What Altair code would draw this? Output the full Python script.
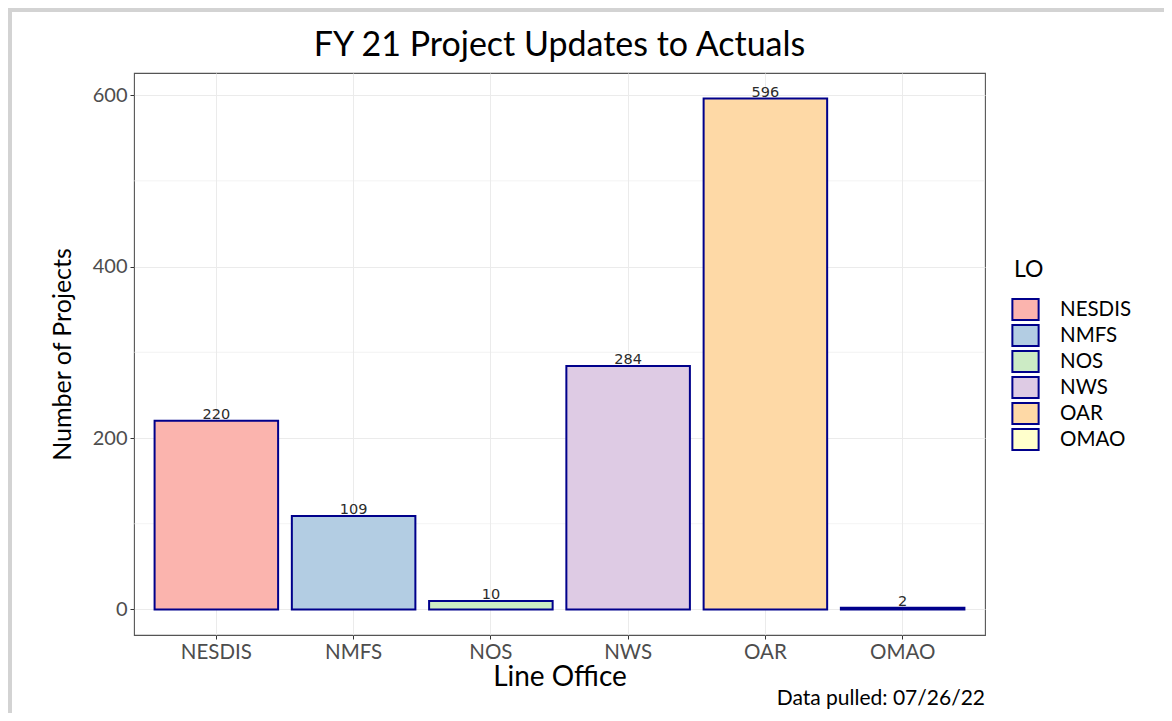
import altair as alt
import pandas as pd

# ---- data -------------------------------------------------------------
offices = ["NESDIS", "NMFS", "NOS", "NWS", "OAR", "OMAO"]
counts = [220, 109, 10, 284, 596, 2]
fills = ["#FBB4AE", "#B3CDE3", "#CCEBC5", "#DECBE4", "#FED9A6", "#FFFFCC"]
major_ticks = [0, 200, 400, 600]
minor_ticks = [100, 300, 500]
title_text = "FY 21 Project Updates to Actuals"
x_title = "Line Office"
y_title = "Number of Projects"
legend_title = "LO"
caption_text = "Data pulled: 07/26/22"

df = pd.DataFrame({"LO": offices, "n": counts})
minor_df = pd.DataFrame({"n": minor_ticks})
cap_df = pd.DataFrame({"t": [caption_text]})

W, H = 851, 562
NAVY = "#00008B"
FONT = "Lato"

x_enc = alt.X(
    "LO:N",
    sort=offices,
    title=x_title,
    scale=alt.Scale(paddingInner=0.1, paddingOuter=0.15),
    axis=alt.Axis(
        labelAngle=0,
        labelFont=FONT,
        labelFontSize=20.5,
        labelColor="#4d4d4d",
        labelPadding=3,
        tickColor="#333333",
        tickSize=4,
        domain=False,
        grid=True,
        gridColor="#ebebeb",
        gridWidth=1,
        bandPosition=0.5,
        titleFont=FONT,
        titleFontSize=28,
        titleFontWeight="normal",
        titleColor="black",
        titleY=50,
        titleBaseline="alphabetic",
    ),
)
y_enc = alt.Y(
    "n:Q",
    title=y_title,
    scale=alt.Scale(domain=[-29.8, 625.8], nice=False, zero=False),
    axis=alt.Axis(
        values=major_ticks,
        labelFont=FONT,
        labelFontSize=20,
        labelColor="#4d4d4d",
        labelPadding=3,
        tickColor="#333333",
        tickSize=4,
        domain=False,
        grid=True,
        gridColor="#ebebeb",
        gridWidth=1,
        titleFont=FONT,
        titleFontSize=25,
        titleFontWeight="normal",
        titleColor="black",
        titleAngle=270,
        titleX=-64,
        titleY=H / 2,
        titleBaseline="alphabetic",
    ),
)

minor = alt.Chart(minor_df).mark_rule(color="#ebebeb", strokeWidth=0.6).encode(y=y_enc)

bars = alt.Chart(df).mark_bar(stroke=NAVY, strokeWidth=2).encode(
    x=x_enc,
    y=y_enc,
    color=alt.Color(
        "LO:N",
        scale=alt.Scale(domain=offices, range=fills),
        legend=alt.Legend(
            title=legend_title,
            orient="none",
            legendX=880,
            legendY=186,
            padding=0,
            titleFont=FONT,
            titleFontSize=23,
            titleFontWeight="normal",
            titleColor="black",
            titlePadding=16,
            labelFont=FONT,
            labelFontSize=20.5,
            labelColor="black",
            labelOffset=23,
            rowPadding=-4.2,
            symbolType="M-1.25,-1H1.25V1H-1.25Z",
            symbolSize=441,
            symbolStrokeColor=NAVY,
            symbolStrokeWidth=2,
            symbolOpacity=1,
        ),
    ),
)

labels = alt.Chart(df).mark_text(
    baseline="alphabetic", dy=-2, font="DejaVu Sans", fontSize=14.5, color="#2b2b2b"
).encode(x=alt.X("LO:N", sort=offices), y=alt.Y("n:Q"), text="n:Q")

caption = alt.Chart(cap_df).mark_text(
    align="right", baseline="alphabetic", font=FONT, fontSize=21, color="black"
).encode(x=alt.value(W), y=alt.value(632), text="t:N")

frame_top = alt.Chart(cap_df).mark_rule(color="#d3d3d3", strokeWidth=4).encode(
    x=alt.value(-127), x2=alt.value(1030), y=alt.value(-63)
)
frame_left = alt.Chart(cap_df).mark_rule(color="#d3d3d3", strokeWidth=4).encode(
    x=alt.value(-124), y=alt.value(-63), y2=alt.value(640)
)

chart = (
    alt.layer(minor, bars, labels, caption, frame_top, frame_left)
    .properties(
        width=W,
        height=H,
        title=alt.TitleParams(
            text=title_text,
            font=FONT,
            fontSize=34,
            fontWeight="normal",
            color="black",
            anchor="middle",
            frame="group",
            baseline="alphabetic",
            offset=-82,
        ),
        autosize=alt.AutoSizeParams(type="none"),
        padding={"left": 126, "top": 65, "right": 179, "bottom": 78},
        background="white",
    )
    .configure_view(stroke="#555555", strokeWidth=1.1)
)

chart.save("out.html", embed_options={"renderer": "svg", "actions": False})
